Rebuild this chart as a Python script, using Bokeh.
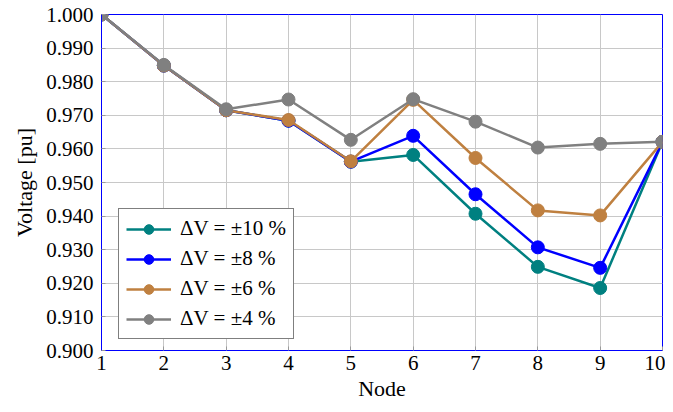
from bokeh.plotting import figure
from bokeh.models import Legend, LegendItem, FixedTicker, PrintfTickFormatter, Range1d
from bokeh.embed import file_html
from bokeh.resources import INLINE

nodes = [1, 2, 3, 4, 5, 6, 7, 8, 9, 10]
v10 = [1.000, 0.9848, 0.9715, 0.9684, 0.9562, 0.9582, 0.9407, 0.9249, 0.9186, 0.9621]
v8 = [1.000, 0.9848, 0.9715, 0.9684, 0.9562, 0.9639, 0.9465, 0.9307, 0.9246, 0.9621]
v6 = [1.000, 0.9848, 0.9715, 0.9686, 0.9563, 0.9746, 0.9573, 0.9417, 0.9402, 0.9621]
v4 = [1.000, 0.9850, 0.9718, 0.9747, 0.9627, 0.9748, 0.9681, 0.9604, 0.9615, 0.9621]
labels = ["\u0394V = \u00b110 %", "\u0394V = \u00b18 %", "\u0394V = \u00b16 %", "\u0394V = \u00b14 %"]
colors = ["#008080", "#0000ff", "#bf8040", "#808080"]
yticks = [0.90, 0.91, 0.92, 0.93, 0.94, 0.95, 0.96, 0.97, 0.98, 0.99, 1.00]

FONT = "Liberation Serif"
FS = "21px"

p = figure(width=665, height=404, output_backend="svg", toolbar_location=None,
           x_range=Range1d(1, 10), y_range=Range1d(0.9, 1.0),
           min_border_left=101, min_border_right=3, min_border_top=14, min_border_bottom=54)
p.background_fill_color = "white"
p.border_fill_color = "white"
p.outline_line_color = "#0000ff"
p.outline_line_width = 1

p.xaxis.ticker = FixedTicker(ticks=nodes)
p.yaxis.ticker = FixedTicker(ticks=yticks)
p.yaxis.formatter = PrintfTickFormatter(format="%.3f")
for ax in (p.xaxis[0], p.yaxis[0]):
    ax.axis_line_color = "#0000ff"
    ax.major_tick_in = 4
    ax.major_tick_out = 0
    ax.minor_tick_line_color = None
    ax.major_tick_line_color = "#999999"
    ax.major_label_text_font = FONT
    ax.major_label_text_font_size = FS
    ax.major_label_text_color = "black"
    ax.axis_label_text_font = FONT
    ax.axis_label_text_font_size = "22px"
    ax.axis_label_text_font_style = "normal"
    ax.axis_label_text_color = "black"
p.xaxis.axis_label = "Node"
p.yaxis.axis_label = "Voltage [pu]"
p.xaxis.major_label_standoff = 5
p.yaxis.major_label_standoff = 8
p.xaxis.axis_label_standoff = 3
p.yaxis.axis_label_standoff = 6

p.xgrid.grid_line_color = "#c8c8c8"
p.ygrid.grid_line_color = "#c8c8c8"
p.xgrid.grid_line_width = 1
p.ygrid.grid_line_width = 1

items = []
for ys, lab, c in zip([v10, v8, v6, v4], labels, colors):
    ln = p.line(nodes, ys, line_color=c, line_width=2.5)
    sc = p.scatter(nodes, ys, size=13, fill_color=c, line_color=c)
    items.append(LegendItem(label=lab, renderers=[ln, sc]))

legend = Legend(items=items, location=(17, 11))
legend.label_text_font = FONT
legend.label_text_font_size = FS
legend.label_text_color = "black"
legend.border_line_color = "black"
legend.border_line_width = 1
legend.background_fill_color = "white"
legend.background_fill_alpha = 1
legend.glyph_width = 45
legend.glyph_height = 24
legend.label_height = 24
legend.spacing = 5
legend.padding = 7
legend.margin = 0
legend.label_standoff = 9
p.add_layout(legend, "center")

open("out.html", "w").write(file_html(p, INLINE))
